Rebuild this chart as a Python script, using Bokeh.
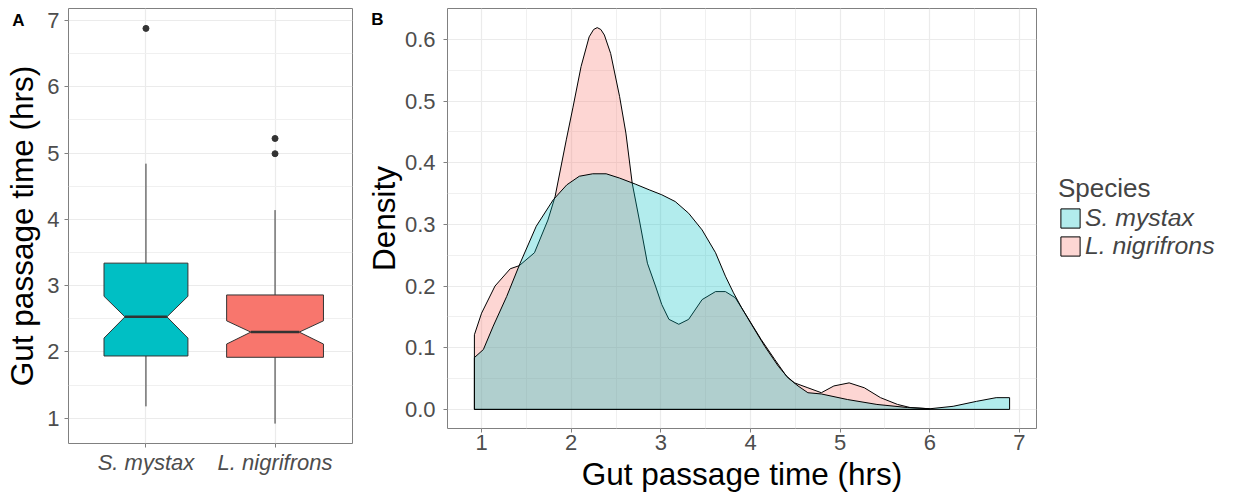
from bokeh.plotting import figure
from bokeh.layouts import row, column
from bokeh.models import (FixedTicker, Range1d, Legend, LegendItem, LinearAxis,
                          CustomJSTickFormatter)
from bokeh.embed import file_html
from bokeh.resources import INLINE

# ---------------- data ----------------
species = ["S. mystax", "L. nigrifrons"]
colors = ["#00BFC4", "#F8766D"]
panel_letters = ["A", "B"]

# box plot statistics (hrs)
q1 = [1.94, 1.92]
median = [2.53, 2.30]
q3 = [3.34, 2.86]
notch_lo = [2.21, 2.12]
notch_hi = [2.84, 2.47]
whisker_lo = [1.18, 0.92]
whisker_hi = [4.84, 4.14]
box_width = [0.65, 0.75]
outlier_species = [0, 1, 1]
outlier_value = [6.88, 4.99, 5.22]

# density curves
mystax_x = [0.92, 1.02, 1.13, 1.28, 1.43, 1.61, 1.80, 1.95, 2.09, 2.24, 2.39, 2.54,
            2.72, 2.87, 3.01, 3.16, 3.31, 3.46, 3.61, 3.72, 3.81, 3.90, 4.01, 4.16,
            4.31, 4.42, 4.53, 4.64, 4.79, 5.08, 5.41, 5.75, 6.00, 6.26, 6.52, 6.74, 6.89]
mystax_y = [0.084, 0.097, 0.135, 0.183, 0.237, 0.297, 0.340, 0.364, 0.378, 0.382, 0.382, 0.375,
            0.365, 0.356, 0.348, 0.337, 0.318, 0.291, 0.254, 0.216, 0.189, 0.165, 0.138, 0.102,
            0.070, 0.051, 0.038, 0.027, 0.025, 0.016, 0.008, 0.003, 0.001, 0.005, 0.013, 0.019, 0.019]
nigri_x = [0.92, 1.00, 1.15, 1.32, 1.42, 1.59, 1.74, 1.82, 1.945, 2.02, 2.11, 2.20, 2.25, 2.29,
           2.33, 2.37, 2.44, 2.54, 2.61, 2.68, 2.76, 2.85, 2.94, 3.01, 3.09, 3.20, 3.31, 3.46,
           3.61, 3.72, 3.83, 3.98, 4.12, 4.27, 4.40, 4.49, 4.64, 4.79, 4.93, 5.10, 5.27,
           5.45, 5.64, 5.78, 6.00]
nigri_y = [0.121, 0.156, 0.200, 0.228, 0.233, 0.254, 0.307, 0.345, 0.437, 0.490, 0.556, 0.604, 0.616,
           0.619, 0.616, 0.607, 0.577, 0.507, 0.448, 0.367, 0.307, 0.237, 0.200, 0.170, 0.146, 0.138,
           0.146, 0.178, 0.191, 0.191, 0.181, 0.146, 0.113, 0.081, 0.054, 0.043, 0.035, 0.027, 0.038,
           0.043, 0.035, 0.019, 0.008, 0.003, 0.001]

FONT = "Liberation Sans"
TICK_COL = "#4D4D4D"
GRID = "#EBEBEB"
GRID_MINOR = "#F0F0F0"
BORDER = "#808080"


def style(p):
    p.background_fill_color = "white"
    p.border_fill_color = "white"
    p.outline_line_color = BORDER
    p.outline_line_width = 1
    for ax in (p.xaxis[0], p.yaxis[0]):
        ax.axis_line_color = None
        ax.major_tick_line_color = BORDER
        ax.major_tick_in = 0
        ax.major_tick_out = 4
        ax.minor_tick_line_color = None
        ax.major_label_text_font = FONT
        ax.major_label_text_font_size = "22px"
        ax.major_label_text_color = TICK_COL
        ax.axis_label_text_font = FONT
        ax.axis_label_text_font_size = "31.5px"
        ax.axis_label_text_font_style = "normal"
        ax.axis_label_text_color = "black"
    for g in (p.xgrid[0], p.ygrid[0]):
        g.grid_line_color = GRID
        g.grid_line_width = 1.2
        g.minor_grid_line_color = GRID_MINOR
        g.minor_grid_line_width = 1


def letter_axis(p, letter, ypos, standoff):
    ax = LinearAxis(ticker=FixedTicker(ticks=[ypos]),
                    formatter=CustomJSTickFormatter(code="return '%s';" % letter))
    ax.axis_line_color = None
    ax.major_tick_line_color = None
    ax.minor_tick_line_color = None
    ax.major_tick_in = 0
    ax.major_tick_out = 0
    ax.major_label_standoff = standoff
    ax.major_label_text_font = FONT
    ax.major_label_text_font_size = "17px"
    ax.major_label_text_font_style = "bold"
    ax.major_label_text_color = "black"
    p.add_layout(ax, "left")


# ---------------- panel A ----------------
pA = figure(width=362, height=496, output_backend="svg", toolbar_location=None,
            x_range=Range1d(0.4, 2.6), y_range=Range1d(0.62, 7.18),
            min_border_left=68, min_border_right=10, min_border_top=8, min_border_bottom=53)
style(pA)
pA.xaxis[0].ticker = FixedTicker(ticks=[1, 2])
pA.xaxis[0].major_label_overrides = {1: species[0], 2: species[1]}
pA.xaxis[0].major_label_text_font_style = "italic"
pA.xaxis[0].major_label_standoff = 2
pA.xgrid[0].minor_grid_line_color = None
pA.yaxis[0].ticker = FixedTicker(ticks=[1, 2, 3, 4, 5, 6, 7],
                                 minor_ticks=[1.5, 2.5, 3.5, 4.5, 5.5, 6.5])
pA.yaxis[0].axis_label = "Gut passage time (hrs)"
pA.yaxis[0].major_label_standoff = 5
pA.yaxis[0].axis_label_standoff = 4
letter_axis(pA, panel_letters[0], 7.0, -23)

for i in range(len(species)):
    c = i + 1
    w = box_width[i] / 2
    nw = w / 2
    pA.segment(x0=[c, c], y0=[q3[i], q1[i]], x1=[c, c], y1=[whisker_hi[i], whisker_lo[i]],
               line_color="#333333", line_width=1)
    xs = [c - w, c + w, c + w, c + nw, c + w, c + w, c - w, c - w, c - nw, c - w]
    ys = [q1[i], q1[i], notch_lo[i], median[i], notch_hi[i], q3[i], q3[i], notch_hi[i],
          median[i], notch_lo[i]]
    pA.patch(xs, ys, fill_color=colors[i], line_color="#333333", line_width=1)
    pA.segment(x0=[c - nw], y0=[median[i]], x1=[c + nw], y1=[median[i]],
               line_color="#333333", line_width=2.5)

pA.scatter([s + 1 for s in outlier_species], outlier_value, size=6,
           fill_color="#333333", line_color="#333333")

# ---------------- panel B ----------------
pB = figure(width=676, height=496, output_backend="svg", toolbar_location=None,
            x_range=Range1d(0.62, 7.19), y_range=Range1d(-0.031, 0.65),
            min_border_left=82, min_border_right=2, min_border_top=8, min_border_bottom=68)
style(pB)
pB.xaxis[0].ticker = FixedTicker(ticks=[1, 2, 3, 4, 5, 6, 7],
                                 minor_ticks=[1.5, 2.5, 3.5, 4.5, 5.5, 6.5])
pB.yaxis[0].ticker = FixedTicker(ticks=[0.0, 0.1, 0.2, 0.3, 0.4, 0.5, 0.6],
                                 minor_ticks=[0.05, 0.15, 0.25, 0.35, 0.45, 0.55])
pB.yaxis[0].major_label_overrides = {0: "0.0"}
pB.xaxis[0].axis_label = "Gut passage time (hrs)"
pB.yaxis[0].axis_label = "Density"
pB.xaxis[0].major_label_standoff = 2
pB.xaxis[0].axis_label_standoff = 3
pB.yaxis[0].major_label_standoff = 8
pB.yaxis[0].axis_label_standoff = 0
letter_axis(pB, panel_letters[1], 0.632, -21)

pB.patch([nigri_x[0]] + nigri_x + [nigri_x[-1]], [0] + nigri_y + [0],
         fill_color=colors[1], fill_alpha=0.3, line_color="black", line_width=1)
pB.patch([mystax_x[0]] + mystax_x + [mystax_x[-1]], [0] + mystax_y + [0],
         fill_color=colors[0], fill_alpha=0.3, line_color="black", line_width=1)

# ---------------- legend panel ----------------
pC = figure(width=207, height=496, output_backend="svg", toolbar_location=None,
            x_range=Range1d(0, 1), y_range=Range1d(0, 1),
            min_border_left=0, min_border_right=0, min_border_top=0, min_border_bottom=0)
pC.axis.visible = False
pC.grid.visible = False
pC.outline_line_color = None
pC.background_fill_color = "white"
pC.border_fill_color = "white"
kM = pC.patch([5, 6, 6], [5, 5, 6], fill_color=colors[0], fill_alpha=0.3,
              line_color="black", line_width=1)
kN = pC.patch([5, 6, 6], [5, 5, 6], fill_color=colors[1], fill_alpha=0.3,
              line_color="black", line_width=1)

common = dict(label_text_font=FONT, label_text_font_size="24.8px", label_text_font_style="italic",
              glyph_width=24, glyph_height=24, label_height=24, spacing=0, label_standoff=3,
              margin=0, padding=5, border_line_color=None, background_fill_alpha=0)
legend1 = Legend(items=[LegendItem(label=species[0], renderers=[kM])],
                 location=(20, 264), title="Species",
                 title_text_font=FONT, title_text_font_size="26px", title_text_font_style="normal",
                 title_standoff=0, **common)
legend2 = Legend(items=[LegendItem(label=species[1], renderers=[kN])],
                 location=(20, 236), **common)
pC.add_layout(legend1)
pC.add_layout(legend2)

layout = row(column(pA), column(pB), pC, spacing=0)
open("out.html", "w").write(file_html(layout, INLINE))
